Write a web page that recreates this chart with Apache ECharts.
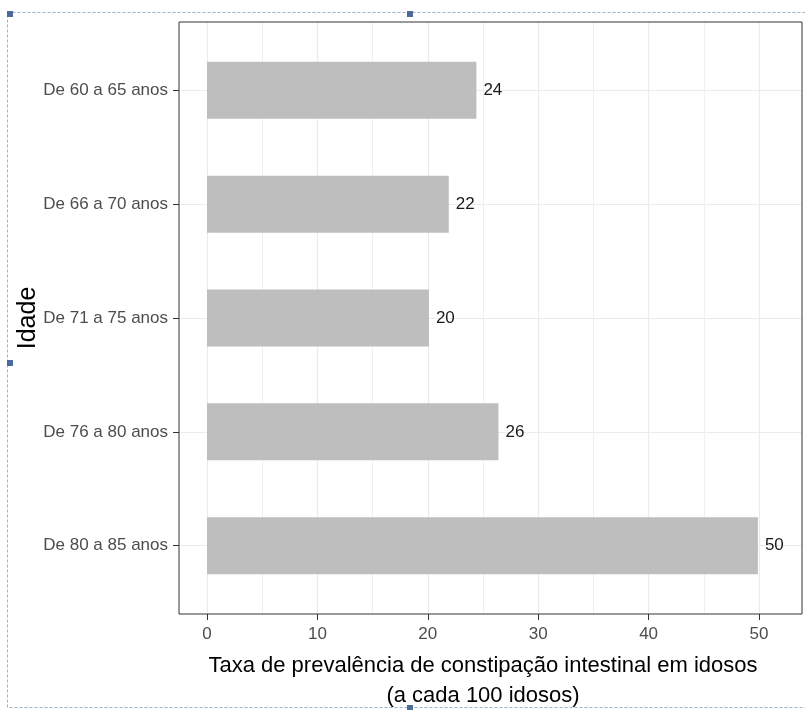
<!DOCTYPE html>
<html>
<head>
<meta charset="utf-8">
<script src="https://cdn.jsdelivr.net/npm/echarts@6/dist/echarts.min.js"></script>
<style>
html,body{margin:0;padding:0;background:#fff;}
#chart{width:805px;height:710px;}
</style>
</head>
<body>
<div id="chart"></div>
<script>
// ---- data ----
var categories = ['De 60 a 65 anos', 'De 66 a 70 anos', 'De 71 a 75 anos', 'De 76 a 80 anos', 'De 80 a 85 anos'];
var prevalence = [24.4, 21.9, 20.1, 26.4, 49.9];
var xTicks = [0, 10, 20, 30, 40, 50];
var xTitle = 'Taxa de prevalência de constipação intestinal em idosos\n(a cada 100 idosos)';
var yTitle = 'Idade';

var SANS = "'Liberation Sans', Arial, sans-serif";

// layout
var W = 805, H = 710;
var frameL = 179, frameR = 802, frameT = 22, frameB = 614;
var band = (frameB - frameT) / (categories.length - 1 + 1.2);
var ptTop = frameT + 0.6 * band, ptBot = frameB - 0.6 * band;
var x0px = 207, x50px = 759;

var chart = echarts.init(document.getElementById('chart'), null, {renderer: 'canvas'});

function g(o) { o.outerBoundsMode = 'none'; o.containLabel = false; return o; }

var option = {
  animation: false,
  backgroundColor: '#ffffff',
  grid: [
    // 0: frame
    g({left: frameL, right: W - frameR, top: frameT, bottom: H - frameB, show: true,
     borderColor: '#333333', borderWidth: 1, backgroundColor: 'transparent', z: 5}),
    // 1: horizontal grid lines + category labels
    g({left: frameL, right: W - frameR, top: ptTop, bottom: H - ptBot}),
    // 2: vertical grid lines + x labels
    g({left: x0px, right: W - x50px, top: frameT, bottom: H - frameB}),
    // 3: bars
    g({left: x0px, right: W - x50px, top: ptTop, bottom: H - ptBot})
  ],
  xAxis: [
    {gridIndex: 0, type: 'value', show: false},
    {gridIndex: 1, type: 'value', min: 0, max: 1, show: false},
    {gridIndex: 2, type: 'value', min: xTicks[0], max: xTicks[xTicks.length - 1], interval: 10,
     position: 'bottom',
     axisLine: {show: false},
     axisTick: {show: true, length: 6, lineStyle: {color: '#333333', width: 1}},
     axisLabel: {show: true, margin: 12, color: '#4D4D4D', fontFamily: SANS, fontSize: 17},
     splitLine: {show: true, lineStyle: {color: '#EBEBEB', width: 1.2}},
     minorTick: {show: false, splitNumber: 2},
     minorSplitLine: {show: true, lineStyle: {color: '#F0F0F0', width: 1}},
     name: xTitle, nameLocation: 'middle', nameGap: 37, nameMoveOverlap: false,
     nameTextStyle: {color: '#000000', fontFamily: SANS, fontSize: 22, lineHeight: 30}
    },
    {gridIndex: 3, type: 'value', min: xTicks[0], max: xTicks[xTicks.length - 1], show: false}
  ],
  yAxis: [
    {gridIndex: 0, type: 'value', show: false},
    {gridIndex: 1, type: 'category', data: categories, inverse: true, boundaryGap: false,
     axisLine: {show: false},
     axisTick: {show: true, length: 6, lineStyle: {color: '#333333', width: 1}},
     axisLabel: {show: true, margin: 11, color: '#4D4D4D', fontFamily: SANS, fontSize: 17},
     splitLine: {show: true, lineStyle: {color: '#EBEBEB', width: 1.2}},
     name: yTitle, nameLocation: 'middle', nameRotate: 90, nameGap: 138, nameMoveOverlap: false,
     nameTextStyle: {color: '#000000', fontFamily: SANS, fontSize: 25}
    },
    {gridIndex: 2, type: 'value', show: false},
    {gridIndex: 3, type: 'category', data: categories, inverse: true, boundaryGap: false, show: false}
  ],
  series: [{
    type: 'bar',
    xAxisIndex: 3,
    yAxisIndex: 3,
    data: prevalence,
    barWidth: Math.round(band * 0.5),
    itemStyle: {color: '#BEBEBE'},
    label: {
      show: true, position: 'right', distance: 7,
      color: '#1A1A1A', fontFamily: SANS, fontSize: 17,
      formatter: function (p) { return Math.round(p.value); }
    },
    z: 3
  }],
  graphic: [
    {type: 'rect', shape: {x: 7.5, y: 12.5, width: 820, height: 695}, silent: true,
     style: {fill: 'none', stroke: '#9FB0CC', lineWidth: 1, lineDash: [3, 2]}, z: 100},
    {type: 'rect', shape: {x: 7, y: 11, width: 6, height: 6}, style: {fill: '#4A6B9B'}, z: 101, silent: true},
    {type: 'rect', shape: {x: 407, y: 11, width: 6, height: 6}, style: {fill: '#4A6B9B'}, z: 101, silent: true},
    {type: 'rect', shape: {x: 7, y: 360, width: 6, height: 6}, style: {fill: '#4A6B9B'}, z: 101, silent: true},
    {type: 'rect', shape: {x: 407, y: 705, width: 6, height: 6}, style: {fill: '#4A6B9B'}, z: 101, silent: true}
  ]
};
chart.setOption(option);
</script>
</body>
</html>
